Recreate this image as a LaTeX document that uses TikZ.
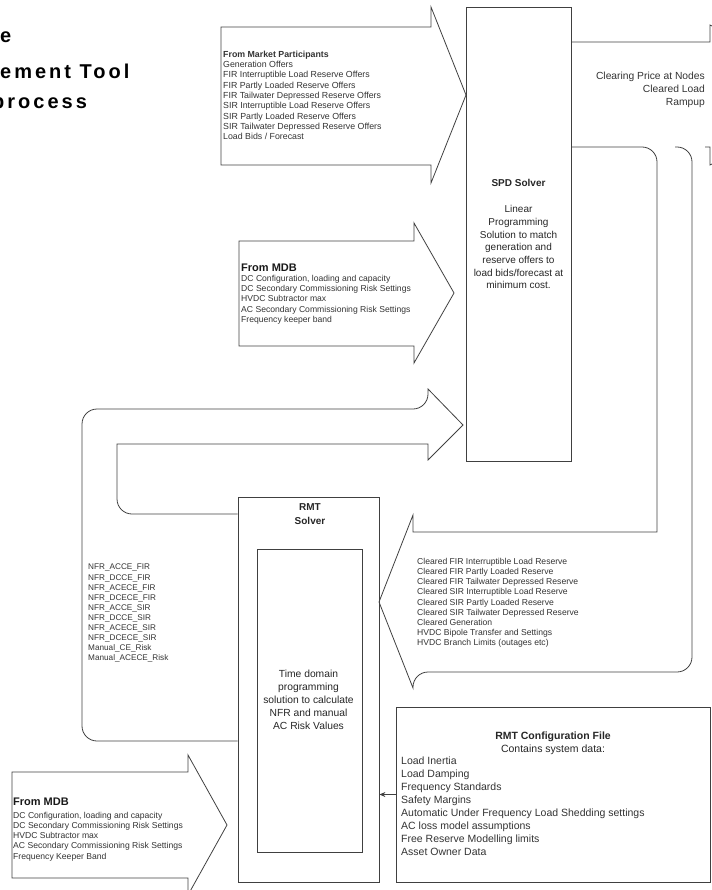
\documentclass[tikz,border=0pt]{standalone}
\usepackage{fontspec}
\setmainfont{Liberation Sans}
\newfontfamily\ttlfont[LetterSpace=15]{Liberation Sans}
\usetikzlibrary{arrows.meta,positioning}

\tikzset{
  shp/.style={draw=black!75,line width=0.8pt},
  box/.style={shp,inner sep=0pt},
  lbl/.style={inner sep=0pt,text=black!80,align=left,anchor=north west},
  ctr/.style={inner sep=0pt,text=black!85,align=center,anchor=north},
  tiny/.style={font=\fontsize{8.6}{10.2}\selectfont},
  norm/.style={font=\fontsize{10.3}{12.8}\selectfont},
  mdbhead/.style={lbl,text=black!90,font=\bfseries\fontsize{11}{12}\selectfont},
  ttl/.style={inner sep=0pt,anchor=base west,font=\ttlfont\bfseries\fontsize{20}{22}\selectfont}
}

\begin{document}
\begin{tikzpicture}[x=1pt,y=-1pt]
\useasboundingbox (0,0) rectangle (711,890);

% title, cut at the left edge
\node[ttl] (ttl1) at (0,43) {e};
\node[ttl] (ttl2) at (0,79) {ement Tool};
\node[ttl] (ttl3) at (-8,109) {process};

% solvers and config file
\node[box,minimum width=105pt,minimum height=454pt] (spd) at (518.5,234) {};
\node[box,minimum width=141pt,minimum height=385pt] (rmt) at (308.5,689.5) {};
\node[box,minimum width=105pt,minimum height=303pt] (rmtin) at (309.5,700.5) {};
\node[box,minimum width=314pt,minimum height=175pt] (cfg) at (553,794.5) {};

% block arrows
\draw[shp] (221,27) -- (431,27) -- (431,7) -- (466,95) -- (431,183) -- (431,165) -- (221,165) -- cycle;
\draw[shp] (239,241) -- (414,241) -- (414,223) -- (454,293) -- (414,363) -- (414,346) -- (239,346) -- cycle;
\draw[shp] (12,772) -- (188,772) -- (188,755) -- (227,825) -- (188,895) -- (188,878) -- (12,878) -- cycle;

% RMT -> SPD loop
\coordinate (lpa) at (rmt.west |- 0,741);
\coordinate (lpb) at (rmt.west |- 0,514);
\draw[shp] (lpa) [rounded corners=15pt] -- (82,741) -- (82,409) -- (428,409)
  [sharp corners] -- (428,389) -- (463,425) -- (428,460) -- (428,444)
  -- (117,444) [rounded corners=15pt] -- (117,514) -- (lpb);

% SPD -> RMT loop
\coordinate (tip) at (379,602);
\coordinate (spdo) at (spd.east |- 0,147);
\draw[shp] (675,147) [rounded corners=15pt] -- (692,147) -- (692,672) -- (413,672)
  [sharp corners] -- (413,688) -- (tip) -- (413,515) -- (413,532)
  -- (657,532) [rounded corners=15pt] -- (657,147) -- (spdo);

% SPD output, head runs off the page
\draw[shp] (spd.east |- 0,42) -- (710,42) -- (710,25) -- (730,35);
\draw[shp] (705,147) -- (710,147) -- (710,165) -- (730,155);

% config -> RMT
\draw[shp,-{Stealth[length=6pt,width=5pt]}] (cfg.west) -- (cfg.west -| rmt.east);

% texts
\node[lbl,tiny,font=\fontsize{8.8}{10.3}\selectfont] (mkt) at (223,50.7) {\textbf{From Market Participants}\\
Generation Offers\\
FIR Interruptible Load Reserve Offers\\
FIR Partly Loaded Reserve Offers\\
FIR Tailwater Depressed Reserve Offers\\
SIR Interruptible Load Reserve Offers\\
SIR Partly Loaded Reserve Offers\\
SIR Tailwater Depressed Reserve Offers\\
Load Bids / Forecast};

\node[mdbhead] (mdb1) at (241,264) {From MDB};
\node[lbl,tiny] (mdb1txt) at (241,275) {DC Configuration, loading and capacity\\
DC Secondary Commissioning Risk Settings\\
HVDC Subtractor max\\
AC Secondary Commissioning Risk Settings\\
Frequency keeper band};

\node[mdbhead] (mdb2) at (13,798) {From MDB};
\node[lbl,tiny] (mdb2txt) at (13,811.8) {DC Configuration, loading and capacity\\
DC Secondary Commissioning Risk Settings\\
HVDC Subtractor max\\
AC Secondary Commissioning Risk Settings\\
Frequency Keeper Band};

\node[ctr,font=\bfseries\fontsize{10}{12}\selectfont] (spdttl) at (518.5,179.3) {SPD Solver};
\node[ctr,norm,font=\fontsize{10}{12.7}\selectfont] (spdtxt) at (518.5,205.3) {Linear\\
Programming\\
Solution to match\\
generation and\\
reserve offers to\\
load bids/forecast at\\
minimum cost.};

\node[lbl,norm,anchor=north east,align=right] (outtxt) at (705,72.1) {Clearing Price at Nodes\\
Cleared Load\\
Rampup};

\node[ctr,font=\bfseries\fontsize{10}{14}\selectfont] (rmtttl) at (310,503.3) {RMT\\Solver};
\node[ctr,norm] (rmttxt) at (308.5,670.3) {Time domain\\
programming\\
solution to calculate\\
NFR and manual\\
AC Risk Values};

\node[lbl,tiny,font=\fontsize{8.2}{10.1}\selectfont] (nfr) at (88,564) {NFR\_ACCE\_FIR\\
NFR\_DCCE\_FIR\\
NFR\_ACECE\_FIR\\
NFR\_DCECE\_FIR\\
NFR\_ACCE\_SIR\\
NFR\_DCCE\_SIR\\
NFR\_ACECE\_SIR\\
NFR\_DCECE\_SIR\\
Manual\_CE\_Risk\\
Manual\_ACECE\_Risk};

\node[lbl,tiny] (clr) at (417,557.8) {Cleared FIR Interruptible Load Reserve\\
Cleared FIR Partly Loaded Reserve\\
Cleared FIR Tailwater Depressed Reserve\\
Cleared SIR Interruptible Load Reserve\\
Cleared SIR Partly Loaded Reserve\\
Cleared SIR Tailwater Depressed Reserve\\
Cleared Generation\\
HVDC Bipole Transfer and Settings\\
HVDC Branch Limits (outages etc)};

\node[ctr,norm,font=\fontsize{10.5}{13}\selectfont] (cfgttl) at (553,732.1) {\textbf{RMT Configuration File}\\
Contains system data:};
\node[lbl,font=\fontsize{10.5}{12.9}\selectfont] (cfgtxt) at (401,757.1) {Load Inertia\\
Load Damping\\
Frequency Standards\\
Safety Margins\\
Automatic Under Frequency Load Shedding settings\\
AC loss model assumptions\\
Free Reserve Modelling limits\\
Asset Owner Data};
\end{tikzpicture}
\end{document}
